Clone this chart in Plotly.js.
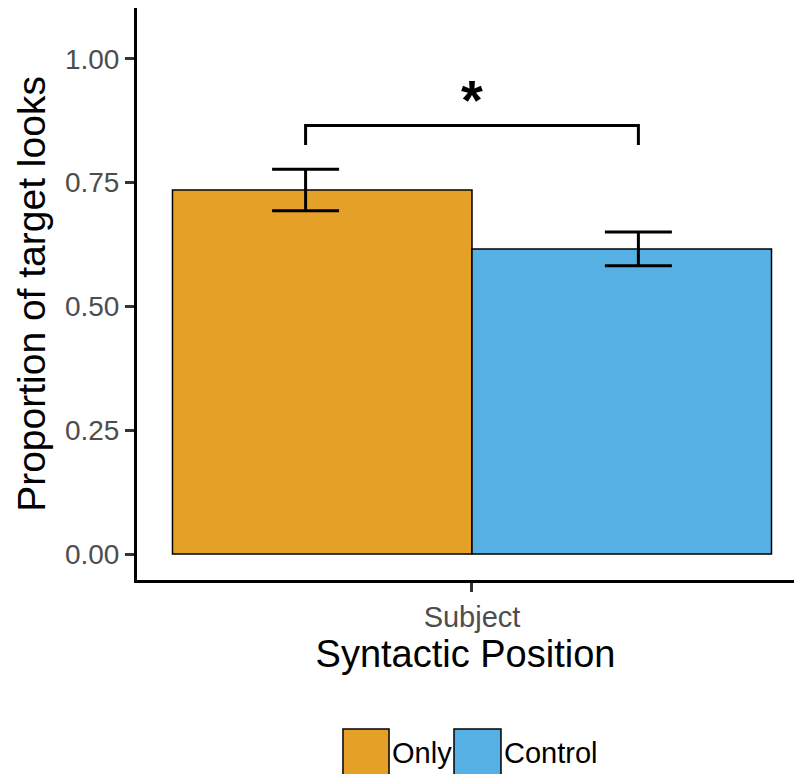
<!DOCTYPE html>
<html>
<head>
<meta charset="utf-8">
<script src="https://cdn.plot.ly/plotly-3.0.1.min.js"></script>
<style>html,body{margin:0;padding:0;background:#fff}#chart{width:794px;height:774px}</style>
</head>
<body>
<div id="chart"></div>
<script>
// ---- data ----
const category = "Subject";
const categoryPos = 1;
const groups = ["Only", "Control"];
const means = [0.735, 0.616];
const errUpper = [0.042, 0.034];
const errLower = [0.042, 0.034];
const groupColors = ["#E5A027", "#56B0E3"];
const yTicks = [0, 0.25, 0.5, 0.75, 1.0];
const yTickText = ["0.00", "0.25", "0.50", "0.75", "1.00"];
// significance bracket between the two groups
const bracketY = [0.826, 0.865, 0.865, 0.826];
const sigLabel = "*";
const sigY = 0.917;

// ---- layout constants ----
const barWidth = 0.45;
const errDodge = 0.25;
const FONT = "Liberation Sans, Arial, Helvetica, sans-serif";

const traces = [];
groups.forEach((g, i) => {
  traces.push({
    type: "bar",
    name: g,
    x: [categoryPos],
    y: [means[i]],
    width: [barWidth],
    offset: [i === 0 ? -barWidth : 0],
    marker: {color: groupColors[i], line: {color: "#000", width: 1.5}},
    showlegend: false,
    hoverinfo: "y"
  });
});
groups.forEach((g, i) => {
  traces.push({
    type: "scatter",
    mode: "markers",
    x: [categoryPos + (i === 0 ? -errDodge : errDodge)],
    y: [means[i]],
    marker: {opacity: 0, size: 1},
    error_y: {type: "data", symmetric: false, array: [errUpper[i]], arrayminus: [errLower[i]],
              color: "#000", thickness: 3, width: 33.5},
    showlegend: false,
    hoverinfo: "skip"
  });
});
const bx0 = categoryPos - errDodge, bx1 = categoryPos + errDodge;
traces.push({
  type: "scatter",
  mode: "lines",
  x: [bx0, bx0, bx1, bx1],
  y: bracketY,
  line: {color: "#000", width: 3},
  showlegend: false,
  hoverinfo: "skip"
});

// legend drawn manually (large keys)
const shapes = [];
const annotations = [];
const legendKeys = [
  {x0: 0.3135, x1: 0.3836},
  {x0: 0.4825, x1: 0.5540}
];
groups.forEach((g, i) => {
  const k = legendKeys[i];
  shapes.push({type: "rect", xref: "paper", yref: "paper", x0: k.x0, x1: k.x1, y0: -0.2605, y1: -0.3420,
               fillcolor: groupColors[i], line: {color: "#000", width: 1.5}});
  annotations.push({xref: "paper", yref: "paper", x: k.x1 + 0.002, y: -0.3024, xanchor: "left", yanchor: "middle",
                    text: g, showarrow: false, font: {family: FONT, size: 29, color: "#000"}});
});
annotations.push({xref: "x", yref: "y", x: categoryPos, y: sigY, text: "<b>" + sigLabel + "</b>", showarrow: false,
                  xanchor: "center", yanchor: "middle", font: {family: FONT, size: 56, color: "#000"}});

const layout = {
  width: 794, height: 774,
  margin: {l: 137, r: 0, t: 8, b: 194},
  paper_bgcolor: "#fff", plot_bgcolor: "#fff",
  font: {family: FONT},
  showlegend: false,
  bargap: 0,
  xaxis: {
    range: [categoryPos - 0.5033, categoryPos + 0.4838],
    tickvals: [categoryPos], ticktext: [category],
    showline: true, linecolor: "#000", linewidth: 3,
    ticks: "outside", ticklen: 9, tickwidth: 3, tickcolor: "#333",
    showgrid: false, zeroline: false,
    tickfont: {family: FONT, size: 29, color: "#4D4D4D"},
    title: {text: "Syntactic Position", font: {family: FONT, size: 38, color: "#000"}, standoff: 8}
  },
  yaxis: {
    range: [-0.0525, 1.1025],
    tickvals: yTicks, ticktext: yTickText,
    showline: true, linecolor: "#000", linewidth: 3,
    ticks: "outside", ticklen: 9, tickwidth: 3, tickcolor: "#333",
    showgrid: false, zeroline: false,
    ticklabelstandoff: 0,
    tickfont: {family: FONT, size: 28, color: "#4D4D4D"},
    title: {text: "Proportion of target looks", font: {family: FONT, size: 39, color: "#000"}, standoff: 8}
  },
  shapes: shapes,
  annotations: annotations
};

Plotly.newPlot("chart", traces, layout, {displayModeBar: false, staticPlot: true});
</script>
</body>
</html>
